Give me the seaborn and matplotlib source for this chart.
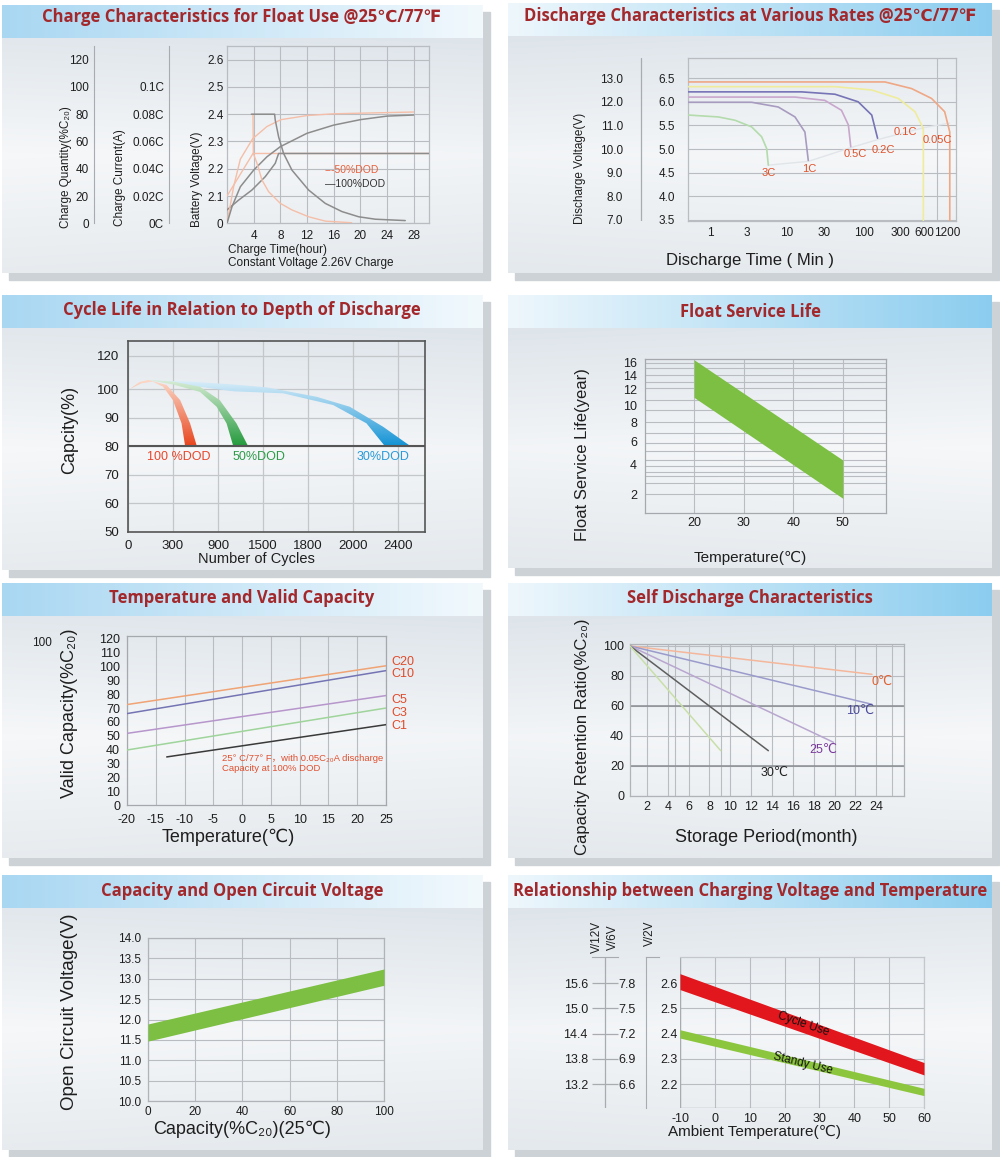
import numpy as np
import matplotlib
matplotlib.use("Agg")
import matplotlib.pyplot as plt
import seaborn as sns
from matplotlib.patches import Rectangle, Polygon
from matplotlib.colors import to_rgb
from matplotlib.ticker import NullFormatter

sns.set_style("white")
plt.rcParams["font.family"] = ["Liberation Sans", "DejaVu Sans", "Noto Sans CJK SC"]
plt.rcParams["axes.unicode_minus"] = False
TITLE_FONT = ["Open Sans", "DejaVu Sans"]

# ---------------- data ----------------
# charge characteristics (x = hours)
q100_h = [0, 0.75, 2, 4, 6, 8, 12, 16, 20, 24, 28]
q100 = [0, 12.2, 26.8, 39, 48.8, 56.2, 66, 72, 76, 78.6, 79.4]
q50_h = [0, 1, 2, 3.85, 6, 8.1, 12, 16, 28]
q50 = [0, 27, 47, 62, 71, 76, 79, 80.3, 81.6]
i100_h = [3.65, 7.14, 7.24, 7.74, 8.49, 9.74, 12.24, 14.74, 17.24, 19.74, 22.24, 26.74]
i100 = [0.08, 0.08, 0.0756, 0.0634, 0.0512, 0.039, 0.0244, 0.0146, 0.0086, 0.0048, 0.003, 0.002]
i50_h = [3.9, 3.95, 4.5, 5.24, 6.24, 8.0, 9.74, 12.24, 14.74, 18.7]
i50 = [0.08, 0.0512, 0.044, 0.0318, 0.0232, 0.0146, 0.0098, 0.0048, 0.0016, 0.0004]
v100_h = [0, 1.74, 3.74, 5.74, 7.24, 7.74, 30.3]
v100 = [2.049, 2.085, 2.122, 2.171, 2.22, 2.256, 2.256]
v50_h = [0, 1, 2, 3, 3.9, 30.3]
v50 = [2.10, 2.14, 2.18, 2.22, 2.256, 2.256]

# discharge at various rates (x = minutes, y = V per 6V block)
rates = ["3C", "1C", "0.5C", "0.2C", "0.1C", "0.05C"]
rate_t = {
    "3C": [0.52, 1.28, 2.11, 3.47, 4.69, 5.45, 5.72],
    "1C": [0.52, 3.47, 7.7, 12.7, 17.1, 18.9],
    "0.5C": [0.52, 12.7, 31, 51, 62.7, 67.3],
    "0.2C": [0.52, 15.5, 42, 84, 126, 150],
    "0.1C": [0.52, 42, 126, 279, 460, 575, 590, 590],
    "0.05C": [0.52, 187, 415, 755, 1116, 1300, 1300],
}
rate_v = {
    "3C": [5.72, 5.68, 5.61, 5.47, 5.26, 5.01, 4.66],
    "1C": [5.99, 5.99, 5.89, 5.68, 5.36, 4.76],
    "0.5C": [6.10, 6.10, 6.03, 5.82, 5.51, 5.05],
    "0.2C": [6.21, 6.21, 6.16, 6.00, 5.72, 5.23],
    "0.1C": [6.32, 6.32, 6.25, 6.07, 5.79, 5.47, 5.40, 3.49],
    "0.05C": [6.42, 6.42, 6.28, 6.07, 5.79, 5.36, 3.49],
}
rate_lab_t = [5.83, 19.3, 76, 177, 342, 886]
rate_lab_v = [4.49, 4.58, 4.89, 4.98, 5.36, 5.19]
final_t = [5.72, 18.9, 67.3, 150, 590, 1300]
final_v = [4.66, 4.74, 5.03, 5.20, 5.45, 5.55]

# cycle life (x = grid index of the cycle ticks)
cycle_ticks = ["0", "300", "900", "1500", "1800", "2000", "2400"]
dod100_up_x = [0.04, 0.25, 0.45, 0.86, 1.16, 1.38, 1.53]
dod100_up_y = [100, 102.4, 103.2, 101.4, 96.1, 88, 80]
dod100_lo_x = [0.04, 0.3, 0.55, 0.78, 1.0, 1.19, 1.27]
dod100_lo_y = [100, 102, 102.6, 100.8, 96.1, 88, 80]
dod50_up_x = [0.45, 1.0, 1.6, 2.04, 2.41, 2.67]
dod50_up_y = [103.2, 102.6, 100.8, 96.1, 88, 80]
dod50_lo_x = [0.45, 1.0, 1.6, 1.97, 2.19, 2.34]
dod50_lo_y = [103.2, 101.6, 99, 93.8, 88, 80]
dod30_up_x = [0.47, 1.4, 2.34, 3.08, 4.19, 4.93, 5.67, 6.28]
dod30_up_y = [103, 102.6, 101.6, 100.6, 97.3, 93.8, 86.8, 80]
dod30_lo_x = [0.47, 1.4, 2.34, 3.45, 4.56, 5.3, 5.71]
dod30_lo_y = [103, 101.2, 99.2, 98.5, 94.4, 88, 80]

# float service life (x = deg C, y = years)
life_t = [20, 50]
life_hi = [16.4, 4.39]
life_lo = [11.0, 1.82]

# temperature and valid capacity
cap_names = ["C20", "C10", "C5", "C3", "C1"]
cap_t = {"C20": [-20, 25], "C10": [-20, 25], "C5": [-20, 25], "C3": [-20, 25], "C1": [-13.1, 25]}
cap_v = {"C20": [72.5, 100.5], "C10": [66, 97], "C5": [51.7, 79], "C3": [39.7, 70], "C1": [34.7, 58]}
cap_lab_y = [103.2, 94.6, 75.8, 66.4, 57]

# self discharge (x = month, y = %)
sd_names = ["0℃", "10℃", "25℃", "30℃", "40℃"]
sd_end_m = [23.6, 23.6, 19.9, 13.65, 9.08]
sd_end_v = [81.1, 61.1, 35.8, 30.2, 30.2]
sd_lab_x = [24.6, 22.5, 18.9, 14.2]
sd_lab_y = [76, 56.7, 30.7, 15.3]

# capacity vs open circuit voltage
ocv_cap = [0, 100]
ocv_hi = [11.89, 13.24]
ocv_lo = [11.47, 12.84]

# charging voltage vs temperature (V per 2V cell)
amb_t = [-10, 60]
cycle_hi = [2.637, 2.285]
cycle_lo = [2.574, 2.236]
stand_hi = [2.415, 2.183]
stand_lo = [2.382, 2.154]
v2_ticks = [2.2, 2.3, 2.4, 2.5, 2.6]
v6_labels = ["6.6", "6.9", "7.2", "7.5", "7.8"]
v12_labels = ["13.2", "13.8", "14.4", "15.0", "15.6"]

# ---------------- figure ----------------
W, H = 1000, 1157
fig = plt.figure(figsize=(10, 11.57), dpi=100)


def box(x0, y0, x1, y1):
    a = fig.add_axes([x0 / W, 1 - y1 / H, (x1 - x0) / W, (y1 - y0) / H])
    a.patch.set_visible(False)
    return a


bg = fig.add_axes([0, 0, 1, 1])
bg.set_xlim(0, W)
bg.set_ylim(H, 0)
bg.axis("off")
bg.set_zorder(-5)


def grad2(c0, c1, n=200, axis=1):
    t = np.linspace(0, 1, n)
    t = t[None, :, None] if axis == 1 else t[:, None, None]
    return (1 - t) * np.array(to_rgb(c0)) + t * np.array(to_rgb(c1))


panels = [
    (2, 5, 483, 273, "l", "Charge Characteristics for Float Use @25℃/77℉", 17),
    (508, 3, 992, 273, "r", "Discharge Characteristics at Various Rates @25℃/77℉", 16),
    (2, 295, 483, 570, "l", "Cycle Life in Relation to Depth of Discharge", 310),
    (508, 295, 992, 568, "r", "Float Service Life", 312),
    (2, 583, 483, 858, "l", "Temperature and Valid Capacity", 598),
    (508, 583, 992, 858, "r", "Self Discharge Characteristics", 598),
    (2, 875, 483, 1150, "l", "Capacity and Open Circuit Voltage", 891),
    (508, 875, 992, 1150, "r", "Relationship between Charging Voltage and Temperature", 891),
]
for x0, y0, x1, y1, side, title, ty in panels:
    bg.add_patch(Rectangle((x0 + 7, y0 + 7), x1 - x0, y1 - y0, color="#cdd2d6", zorder=0))
    top = grad2("#dce3e9", "#f4f6f8", n=100, axis=0)
    bot = grad2("#f4f6f8", "#e3e8ec", n=100, axis=0)
    body = np.concatenate([top, bot], axis=0)
    lr = grad2("#ffffff", "#e9eef2", n=60, axis=1) if side == "l" else grad2("#e9eef2", "#ffffff", n=60, axis=1)
    body = body * 0.85 + lr * 0.15
    bg.imshow(body, extent=(x0, x1, y1, y0 + 33), aspect="auto", zorder=1,
              interpolation="bilinear")
    if side == "l":
        hdr = grad2("#a9d7f2", "#f2f9fd")
    else:
        hdr = grad2("#eef7fc", "#8ccdef")
    bg.imshow(hdr, extent=(x0, x1, y0 + 33, y0), aspect="auto", zorder=1,
              interpolation="bilinear")
    bg.text((x0 + x1) / 2 if side == "r" else 242, ty, title, ha="center", va="center",
            fontsize=12, fontweight="bold", color="#a2282c", family=TITLE_FONT, zorder=3)

GRID = "#b9bdc1"
TXT = "#1e1e1e"


def line(ax, x, y, color, lw=1.2, z=3):
    sns.lineplot(x=x, y=y, ax=ax, color=color, linewidth=lw, estimator=None,
                 sort=False, legend=False, zorder=z)


def frame(ax, color=GRID, lw=0.9):
    for s in ax.spines.values():
        s.set_color(color)
        s.set_linewidth(lw)


def column(ax, lim, ticks, labels, length, pad, size, line_at=None):
    ax.set_ylim(*lim)
    ax.set_xlim(0, 1)
    ax.set_xticks([])
    for s in ax.spines.values():
        s.set_visible(False)
    if line_at is None:
        ax.spines["left"].set_visible(True)
        ax.spines["left"].set_color("#a8acb0")
    else:
        ax.axvline(line_at, color="#a8acb0", lw=0.9)
    ax.set_yticks(ticks, labels=labels)
    ax.tick_params(axis="y", direction="in", length=length, width=0.9, color="#a8acb0",
                   pad=pad, labelsize=size, labelcolor=TXT)


# ---- panel 1: charge characteristics ----
ax1 = box(227, 46, 429, 223.3)
ax1.set_xlim(0, 30.3)
ax1.set_ylim(2.0, 2.65)
ax1.set_xticks([4, 8, 12, 16, 20, 24, 28])
ax1.set_yticks([2.0, 2.1, 2.2, 2.3, 2.4, 2.5, 2.6], labels=["0", "2.1", "2.2", "2.3", "2.4", "2.5", "2.6"])
ax1.tick_params(length=0, labelsize=8.5, labelcolor=TXT)
ax1.tick_params(axis="y", pad=2.5)
ax1.tick_params(axis="x", pad=5)
ax1.grid(True, color=GRID, lw=0.8)
frame(ax1)
axq = ax1.twinx()
axq.set_ylim(0, 130)
axq.axis("off")
axi = ax1.twinx()
axi.set_ylim(0, 0.13)
axi.axis("off")
ORG = "#f5bea8"
GRY = "#8c8c8c"
line(ax1, v50_h, v50, ORG, 1.0)
line(axq, q50_h, q50, ORG, 1.0)
line(axi, i50_h, i50, ORG, 1.0)
line(ax1, v100_h, v100, GRY, 1.1)
line(axq, q100_h, q100, GRY, 1.1)
line(axi, i100_h, i100, GRY, 1.1)
ax1.text(14.7, 2.195, "---50%DOD", color="#e8603c", fontsize=7.5, va="center")
ax1.text(14.7, 2.144, "—100%DOD", color="#333333", fontsize=7.5, va="center")

colq = box(94, 46, 106, 223.3)
column(colq, (0, 130), [0, 20, 40, 60, 80, 100, 120],
       ["0", "20", "40", "60", "80", "100", "120"], 8.6, 3.6, 8.5)
coli = box(169, 46, 183, 223.3)
column(coli, (0, 0.13), [0, 0.02, 0.04, 0.06, 0.08, 0.1],
       ["0C", "0.02C", "0.04C", "0.06C", "0.08C", "0.1C"], 10, 3.6, 8.5)
bg.text(66, 167, "Charge Quantity(%C₂₀)", rotation=90, ha="center", va="center", fontsize=8.5, color=TXT)
bg.text(120, 178, "Charge Current(A)", rotation=90, ha="center", va="center", fontsize=8.5, color=TXT)
bg.text(197, 179, "Battery Voltage(V)", rotation=90, ha="center", va="center", fontsize=8.5, color=TXT)
bg.text(228, 250, "Charge Time(hour)", ha="left", va="center", fontsize=8.5, color=TXT)
bg.text(228, 263, "Constant Voltage 2.26V Charge", ha="left", va="center", fontsize=8.5, color=TXT)

# ---- panel 2: discharge at various rates ----
ax2 = box(688.3, 58.3, 955.7, 220.7)
ax2.set_xscale("log")
rate_colors = ["#b3dbac", "#a89bc0", "#c9a7cd", "#7673b6", "#efec9c", "#efa785"]
line(ax2, final_t, final_v, "#e1e5e9", 1.0, 2)
for name, c in zip(rates, rate_colors):
    line(ax2, rate_t[name], rate_v[name], c, 1.2)
for name, xt, yv in zip(rates, rate_lab_t, rate_lab_v):
    ax2.text(xt, yv, name, color="#e0512b", fontsize=8, ha="center", va="center")
ax2.set_xlim(0.523, 1552)
ax2.set_ylim(3.485, 6.92)
ax2.set_xticks([1, 3, 10, 30, 100, 300, 600, 1200],
               labels=["1", "3", "10", "30", "100", "300", "600", "1200"])
ax2.set_xticks([1, 3, 10, 30, 100, 300, 900], minor=True)
ax2.xaxis.set_minor_formatter(NullFormatter())
ax2.set_yticks([3.5, 4.0, 4.5, 5.0, 5.5, 6.0, 6.5])
ax2.tick_params(which="both", length=0, labelsize=8.5, labelcolor=TXT)
ax2.tick_params(axis="y", pad=9.4)
ax2.tick_params(axis="x", pad=4.5)
ax2.grid(False)
ax2.grid(True, which="minor", axis="x", color=GRID, lw=0.8)
ax2.grid(True, which="major", axis="y", color=GRID, lw=0.8)
frame(ax2)
col2 = box(628, 58.3, 652, 220.7)
column(col2, (6.97, 13.84), [7, 8, 9, 10, 11, 12, 13],
       ["7.0", "8.0", "9.0", "10.0", "11.0", "12.0", "13.0"], 17.3, 3.6, 8.5, line_at=13 / 24)
bg.text(580, 168, "Discharge Voltage(V)", rotation=90, ha="center", va="center", fontsize=8.5, color=TXT)
bg.text(750, 260, "Discharge Time ( Min )", ha="center", va="center", fontsize=12, color=TXT)

# ---- panel 3: cycle life ----
ax3 = box(128, 341, 425, 532)


def gradient_band(ax, xu, yu, xl, yl, c_light, c_dark):
    verts = list(zip(xu, yu)) + list(zip(xl[::-1], yl[::-1]))
    poly = Polygon(verts, closed=True, facecolor="none", edgecolor="none")
    ax.add_patch(poly)
    img = grad2(c_light, c_dark, n=128, axis=0)
    im = ax.imshow(img, extent=(min(xu + xl), max(xu + xl), 80, 104), origin="upper",
                   aspect="auto", zorder=3, interpolation="bilinear")
    im.set_clip_path(poly)


gradient_band(ax3, dod30_up_x, dod30_up_y, dod30_lo_x, dod30_lo_y, "#e6f3fb", "#1393d5")
gradient_band(ax3, dod50_up_x, dod50_up_y, dod50_lo_x, dod50_lo_y, "#e0f0dc", "#249a3d")
gradient_band(ax3, dod100_up_x, dod100_up_y, dod100_lo_x, dod100_lo_y, "#fde0d0", "#e8451e")
ax3.set_xlim(0, 6.6)
ax3.set_ylim(50, 116.8)
ax3.set_xticks(range(len(cycle_ticks)), labels=cycle_ticks)
ax3.set_yticks([50, 60, 70, 80, 90, 100, 111.6], labels=["50", "60", "70", "80", "90", "100", "120"])
ax3.tick_params(length=0, labelsize=9.5, labelcolor=TXT)
ax3.tick_params(axis="y", pad=6.5)
ax3.tick_params(axis="x", pad=5.5)
ax3.grid(True, color="#c4c7ca", lw=0.9)
ax3.axhline(80, color="#555555", lw=1.5, zorder=4)
frame(ax3, "#555555", 1.2)
ax3.text(1.13, 76.1, "100 %DOD", color="#e8462a", fontsize=9, ha="center", va="center")
ax3.text(2.91, 76.1, "50%DOD", color="#2e9a48", fontsize=9, ha="center", va="center")
ax3.text(5.67, 76.1, "30%DOD", color="#2a9ad8", fontsize=9, ha="center", va="center")
bg.text(70, 430, "Capcity(%)", rotation=90, ha="center", va="center", fontsize=13, color=TXT)
bg.text(256, 559, "Number of Cycles", ha="center", va="center", fontsize=10.5, color=TXT)

# ---- panel 4: float service life ----
ax4 = box(645, 359.3, 886, 512.7)
ax4.set_yscale("function", functions=(np.sqrt, np.square))
ax4.fill_between(life_t, life_lo, life_hi, color="#7cbf42", lw=0, zorder=3)
ax4.set_xlim(10.1, 58.7)
ax4.set_ylim(1.143, 16.48)
ax4.set_xticks([20, 30, 40, 50])
ax4.set_yticks([2, 4, 6, 8, 10, 12, 14, 16])
ax4.set_yticks([2.05, 2.7, 3.18, 3.49, 3.92, 4.39, 5.19, 5.87, 6.91, 8.08, 9.43,
                10.67, 12.29, 13.13, 14.08, 15.08, 15.85], minor=True)
ax4.yaxis.set_minor_formatter(NullFormatter())
ax4.tick_params(which="both", length=0, labelsize=9, labelcolor=TXT)
ax4.tick_params(axis="y", pad=5.8)
ax4.tick_params(axis="x", pad=3)
ax4.grid(True, which="minor", axis="y", color=GRID, lw=0.8)
ax4.grid(True, which="major", axis="x", color=GRID, lw=0.8)
frame(ax4, "#a5a9ad")
bg.text(582, 455, "Float Service Life(year)", rotation=90, ha="center", va="center", fontsize=12, color=TXT)
bg.text(750, 558, "Temperature(℃)", ha="center", va="center", fontsize=11, color=TXT)

# ---- panel 5: temperature and valid capacity ----
ax5 = box(127, 636, 386, 805)
cap_colors = ["#f0a374", "#7474b4", "#b796cc", "#9fd49b", "#3a3a3a"]
for name, c in zip(cap_names, cap_colors):
    line(ax5, cap_t[name], cap_v[name], c, 1.1)
for name, yv in zip(cap_names, cap_lab_y):
    ax5.text(26.0, yv, name, color="#e04a2a", fontsize=9, ha="left", va="center", clip_on=False)
ax5.text(-3.5, 33.9, "25° C/77° F，with 0.05C₂₀A discharge", color="#e05030", fontsize=6.8,
         ha="left", va="center")
ax5.text(-3.5, 26.0, "Capacity at 100% DOD", color="#e05030", fontsize=6.8, ha="left", va="center")
ax5.set_xlim(-20, 25)
ax5.set_ylim(0, 122)
ax5.set_xticks(range(-20, 26, 5))
ax5.set_yticks(range(0, 121, 10))
ax5.set_yticks(range(0, 121, 20), minor=True)
ax5.tick_params(which="both", length=0, labelsize=9, labelcolor=TXT)
ax5.tick_params(axis="y", pad=5)
ax5.tick_params(axis="x", pad=6.5)
ax5.grid(True, which="major", axis="x", color=GRID, lw=0.8)
ax5.grid(True, which="minor", axis="y", color=GRID, lw=0.8)
frame(ax5, "#a5a9ad")
bg.text(42, 643, "100", ha="center", va="center", fontsize=8.5, color=TXT)
bg.text(70, 713, "Valid Capacity(%C₂₀)", rotation=90, ha="center", va="center", fontsize=13, color=TXT)
bg.text(228, 837, "Temperature(℃)", ha="center", va="center", fontsize=13, color=TXT)

# ---- panel 6: self discharge ----
ax6 = box(630, 644.3, 904.3, 796)
sd_colors = ["#f4b79c", "#9b9bcb", "#b8a6cf", "#5e5e5e", "#c9dfa8"]
for name, m, v, c in zip(sd_names, sd_end_m, sd_end_v, sd_colors):
    line(ax6, [0.37, m], [100, v], c, 1.1)
sd_lab_colors = ["#e06030", "#4a4a9a", "#7a3a9a", "#222222"]
for name, xl, yl, c in zip(sd_names, sd_lab_x, sd_lab_y, sd_lab_colors):
    ax6.text(xl, yl, name, color=c, fontsize=9, ha="center", va="center")
ax6.set_xlim(0.37, 26.7)
ax6.set_ylim(0, 101.1)
ax6.set_xticks(range(2, 25, 2))
ax6.set_xticks([4.7, 9.1, 25.5], minor=True)
ax6.set_yticks([0, 20, 40, 60, 80, 100])
ax6.tick_params(which="both", length=0, labelsize=9, labelcolor=TXT)
ax6.tick_params(axis="y", pad=4.3)
ax6.tick_params(axis="x", pad=3.6)
ax6.grid(True, which="both", axis="x", color=GRID, lw=0.8)
ax6.grid(True, which="major", axis="y", color=GRID, lw=0.8)
ax6.axhline(60, color="#8a8e92", lw=1.1, zorder=2)
ax6.axhline(20, color="#8a8e92", lw=1.1, zorder=2)
frame(ax6, "#b0b4b8")
bg.text(582, 737, "Capacity Retention Ratio(%C₂₀)", rotation=90, ha="center", va="center",
        fontsize=12, color=TXT)
bg.text(766, 837, "Storage Period(month)", ha="center", va="center", fontsize=13, color=TXT)

# ---- panel 7: capacity vs open circuit voltage ----
ax7 = box(148, 938, 384, 1101)
ax7.fill_between(ocv_cap, ocv_lo, ocv_hi, color="#7cbf42", lw=0, zorder=3)
ax7.set_xlim(0, 100)
ax7.set_ylim(10, 14)
ax7.set_xticks(range(0, 101, 20))
ax7.set_yticks(np.arange(10, 14.01, 0.5), labels=[f"{v:.1f}" for v in np.arange(10, 14.01, 0.5)])
ax7.tick_params(length=0, labelsize=8.5, labelcolor=TXT)
ax7.tick_params(axis="y", pad=5)
ax7.tick_params(axis="x", pad=3.6)
ax7.grid(True, color=GRID, lw=0.8)
frame(ax7, "#b0b4b8")
bg.text(70, 1012, "Open Circuit Voltage(V)", rotation=90, ha="center", va="center", fontsize=13.5, color=TXT)
bg.text(242, 1129, "Capacity(%C₂₀)(25℃)", ha="center", va="center", fontsize=13, color=TXT)

# ---- panel 8: charging voltage vs temperature ----
ax8 = box(680, 957, 924, 1108)
ax8.fill_between(amb_t, cycle_lo, cycle_hi, color="#e2161d", lw=0, zorder=3)
ax8.fill_between(amb_t, stand_lo, stand_hi, color="#8cc63f", lw=0, zorder=3)
ax8.text(25.3, 2.437, "Cycle Use", rotation=-19, rotation_mode="anchor", ha="center", va="center",
         fontsize=8.5, color="#111111", zorder=4)
ax8.text(25.3, 2.282, "Standy Use", rotation=-14, rotation_mode="anchor", ha="center", va="center",
         fontsize=8.5, color="#111111", zorder=4)
ax8.set_xlim(-10, 60)
ax8.set_ylim(2.105, 2.703)
ax8.set_xticks(range(-10, 61, 10))
ax8.set_yticks(v2_ticks)
ax8.tick_params(length=0, labelsize=9, labelcolor=TXT)
ax8.tick_params(axis="y", pad=1.5)
ax8.tick_params(axis="x", pad=3.5)
ax8.grid(True, color=GRID, lw=0.8)
frame(ax8, "#c4c8cc")
ax8.spines["left"].set_visible(False)
ax8.spines["bottom"].set_visible(False)
ax8.axvline(-10, color="#a8acb0", lw=1.0)
ax8.axhline(2.105, color="#a8acb0", lw=1.0)

col12 = box(592, 957, 618, 1108)
column(col12, (12.63, 16.22), [13.2, 13.8, 14.4, 15.0, 15.6], v12_labels, 18.7, 3, 9, line_at=0.5)
col12.spines["top"].set_visible(True)
col12.spines["top"].set_color("#a8acb0")
col6 = col12.twinx()
col6.set_ylim(6.315, 8.11)
col6.set_yticks([6.6, 6.9, 7.2, 7.5, 7.8], labels=v6_labels)
col6.tick_params(axis="y", length=0, pad=0, labelsize=9, labelcolor=TXT)
for s in col6.spines.values():
    s.set_visible(False)
col2v = box(646, 957, 659, 1108)
column(col2v, (2.105, 2.703), v2_ticks, ["", "", "", "", ""], 8, 0, 9)
col2v.spines["top"].set_visible(True)
col2v.spines["top"].set_color("#a8acb0")
bg.text(597, 937, "V/12V", rotation=90, ha="center", va="center", fontsize=8.5, color=TXT)
bg.text(613, 937, "V/6V", rotation=90, ha="center", va="center", fontsize=8.5, color=TXT)
bg.text(650, 933, "V/2V", rotation=90, ha="center", va="center", fontsize=8.5, color=TXT)
bg.text(754, 1132, "Ambient Temperature(℃)", ha="center", va="center", fontsize=11, color=TXT)

fig.savefig("out.png", dpi=100)
